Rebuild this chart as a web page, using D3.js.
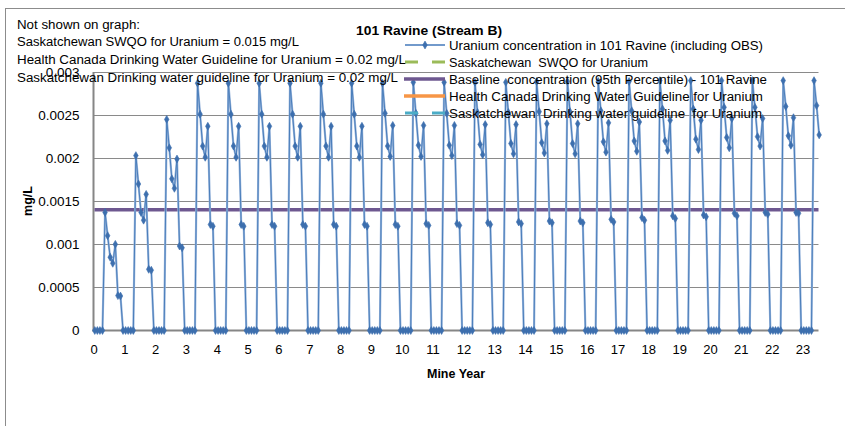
<!DOCTYPE html>
<html>
<head>
<meta charset="utf-8">
<script src="https://cdn.jsdelivr.net/npm/d3@7"></script>
<style>
  html, body { margin: 0; padding: 0; background: #fff; }
  svg { display: block; font-family: "Liberation Sans", Arial, sans-serif; }
</style>
</head>
<body>
<svg id="chart" width="845" height="426"></svg>
<script>
// ---------------- DATA ----------------
const chartTitle = "101 Ravine (Stream B)";
const notes = [
  "Not shown on graph:",
  "Saskatchewan SWQO for Uranium = 0.015 mg/L",
  "Health Canada Drinking Water Guideline for Uranium = 0.02 mg/L",
  "Saskatchewan Drinking water guideline for Uranium = 0.02 mg/L"
];
const mineYears = d3.range(0, 24);            // 0 .. 23
const months = [1,2,3,4,5,6,7,8,9,10,11,12];  // monthly samples
// Uranium (mg/L), one row per mine year, Jan..Dec
const uranium = [
  [0,0,0,0,0.00137,0.00110,0.00085,0.00078,0.00100,0.000405,0.00040,0],
  [0,0,0,0,0.00203,0.00170,0.00137,0.00128,0.00158,0.00071,0.00070,0],
  [0,0,0,0,0.00245,0.00212,0.00176,0.00165,0.00199,0.00098,0.00096,0],
  [0,0,0,0,0.00287,0.00251,0.00214,0.00201,0.00237,0.00123,0.00121,0],
  [0,0,0,0,0.00287,0.00251,0.00214,0.00201,0.00237,0.00123,0.00121,0],
  [0,0,0,0,0.00287,0.00251,0.00214,0.00201,0.00237,0.00123,0.00121,0],
  [0,0,0,0,0.00287,0.00251,0.00214,0.00201,0.00237,0.00123,0.00121,0],
  [0,0,0,0,0.00287,0.00251,0.00214,0.00201,0.00237,0.00123,0.00121,0],
  [0,0,0,0,0.00287,0.00251,0.00214,0.00201,0.00237,0.00123,0.00121,0],
  [0,0,0,0,0.00287,0.00252,0.00214,0.00202,0.00238,0.00123,0.00121,0],
  [0,0,0,0,0.00288,0.00252,0.00215,0.00202,0.00238,0.00124,0.00122,0],
  [0,0,0,0,0.00288,0.00252,0.00215,0.00203,0.00238,0.00124,0.00122,0],
  [0,0,0,0,0.00288,0.00253,0.00216,0.00204,0.00239,0.00125,0.00123,0],
  [0,0,0,0,0.00288,0.00253,0.00217,0.00205,0.00239,0.00126,0.00124,0],
  [0,0,0,0,0.00289,0.00254,0.00218,0.00206,0.00240,0.00127,0.00125,0],
  [0,0,0,0,0.00289,0.00254,0.00217,0.00205,0.00240,0.00127,0.00125,0],
  [0,0,0,0,0.00289,0.00255,0.00219,0.00207,0.00241,0.00129,0.00126,0],
  [0,0,0,0,0.00289,0.00255,0.00220,0.00208,0.00242,0.00131,0.00128,0],
  [0,0,0,0,0.00290,0.00257,0.00220,0.00209,0.00244,0.00133,0.00130,0],
  [0,0,0,0,0.00290,0.00257,0.00222,0.00210,0.00244,0.00134,0.00132,0],
  [0,0,0,0,0.00290,0.00259,0.00224,0.00212,0.00246,0.00136,0.00133,0],
  [0,0,0,0,0.00290,0.00259,0.00225,0.00214,0.00246,0.00137,0.00135,0],
  [0,0,0,0,0.00290,0.00260,0.00226,0.00215,0.00247,0.00137,0.00136,0],
  [0,0,0,0,0.00290,0.00261,0.00227]
];
const baseline95 = 0.0014;     // Baseline concentration (95th percentile)
const swqo = 0.015;            // not shown (off scale)
const healthCanada = 0.02;     // not shown (off scale)
const saskDrinking = 0.02;     // not shown (off scale)
const yTicks = [0, 0.0005, 0.001, 0.0015, 0.002, 0.0025, 0.003];
const yTickLabels = ["0","0.0005","0.001","0.0015","0.002","0.0025","0.003"];
const xTicks = d3.range(0, 24);
const legendLabels = [
  "Uranium concentration in 101 Ravine (including OBS)",
  "Saskatchewan  SWQO for Uranium",
  "Baseline  concentration (95th Percentile) - 101 Ravine",
  "Health Canada Drinking Water Guideline for Uranium",
  "Saskatchewan  Drinking water guideline  for Uranium"
];

// ---------------- BUILD SERIES ----------------
const series = [];
mineYears.forEach((yr, i) => {
  (uranium[i] || []).forEach((v, j) => {
    series.push({ x: yr + (months[j] - 0.5) / 12, y: v });
  });
});

// ---------------- DRAW ----------------
const svg = d3.select("#chart");
const plot = { left: 93.5, right: 818.5, top: 72, bottom: 330.5 };
const FONT = "Liberation Sans, Arial, sans-serif";

const x = d3.scaleLinear().domain([0, 23.52]).range([plot.left, plot.right]);
const y = d3.scaleLinear().domain([0, 0.003]).range([plot.bottom, plot.top]);

// outer chart border
svg.append("rect").attr("x", 5.5).attr("y", 8.5).attr("width", 860).attr("height", 440)
  .attr("fill", "none").attr("stroke", "#8c8c8c").attr("stroke-width", 1);

// gridlines
svg.append("g").selectAll("line").data(yTicks.filter(d => d > 0)).join("line")
  .attr("x1", plot.left).attr("x2", plot.right)
  .attr("y1", d => Math.round(y(d)) + 0.5).attr("y2", d => Math.round(y(d)) + 0.5)
  .attr("stroke", "#8a8a8a").attr("stroke-width", 1);

// y axis
const yAxis = d3.axisLeft(y).tickValues(yTicks).tickFormat((d, i) => yTickLabels[i]).tickSize(0).tickPadding(14);
const gy = svg.append("g").attr("transform", `translate(${plot.left},0)`).call(yAxis);
gy.select(".domain").remove();
gy.selectAll("text").attr("font-size", 13.5).attr("fill", "#000").attr("font-family", FONT);

// x axis
const xAxis = d3.axisBottom(x).tickValues(xTicks).tickFormat(d3.format("d")).tickSize(0).tickPadding(14);
const gx = svg.append("g").attr("transform", `translate(0,${plot.bottom})`).call(xAxis);
gx.select(".domain").remove();
gx.selectAll("text").attr("font-size", 13).attr("fill", "#000").attr("font-family", FONT);

// axis lines
svg.append("line").attr("x1", plot.left).attr("x2", plot.left).attr("y1", plot.top).attr("y2", plot.bottom + 1)
  .attr("stroke", "#868686").attr("stroke-width", 2);
svg.append("line").attr("x1", plot.left - 1).attr("x2", plot.right).attr("y1", plot.bottom).attr("y2", plot.bottom)
  .attr("stroke", "#868686").attr("stroke-width", 2);

// baseline (95th percentile)
svg.append("line").attr("x1", plot.left + 1).attr("x2", plot.right)
  .attr("y1", y(baseline95)).attr("y2", y(baseline95))
  .attr("stroke", "#6e5890").attr("stroke-width", 3.5);

// series line
const line = d3.line().x(d => x(d.x)).y(d => y(d.y));
svg.append("path").datum(series).attr("d", line)
  .attr("fill", "none").attr("stroke", "#9ab6dc").attr("stroke-width", 2.2).attr("stroke-linejoin", "round");
svg.append("path").datum(series).attr("d", line)
  .attr("fill", "none").attr("stroke", "#4a7ebb").attr("stroke-width", 1).attr("stroke-linejoin", "round");

// markers
const diamond = d3.symbol().type(d3.symbolDiamond).size(18);
svg.append("g").selectAll("path").data(series).join("path")
  .attr("d", diamond)
  .attr("transform", d => `translate(${x(d.x)},${y(d.y)})`)
  .attr("fill", "#3d6fae").attr("stroke", "#3d6fae").attr("stroke-width", 0.6);

// axis titles
svg.append("text").attr("x", 456).attr("y", 378).attr("text-anchor", "middle")
  .attr("font-size", 12.5).attr("font-weight", "bold").attr("textLength", 58).attr("lengthAdjust", "spacingAndGlyphs")
  .text("Mine Year");
svg.append("text").attr("transform", "translate(32,201) rotate(-90)").attr("text-anchor", "middle")
  .attr("font-size", 12.5).attr("font-weight", "bold").text("mg/L");

// title
svg.append("text").attr("x", 356).attr("y", 35)
  .attr("font-size", 13.5).attr("font-weight", "bold")
  .attr("textLength", 146).attr("lengthAdjust", "spacingAndGlyphs").text(chartTitle);

// notes
const noteWidths = [123, 282, 389, 381];
svg.append("g").selectAll("text").data(notes).join("text")
  .attr("x", 17).attr("y", (d, i) => 28.5 + i * 17.8)
  .attr("font-size", 12.5).attr("fill", "#000")
  .attr("textLength", (d, i) => noteWidths[i]).attr("lengthAdjust", "spacingAndGlyphs")
  .text(d => d);

// legend
const lg = svg.append("g");
const legendY = [45, 62, 79, 96, 113];
const lx1 = 405, lx2 = 445;
// 0: series
lg.append("line").attr("x1", lx1).attr("x2", lx2).attr("y1", legendY[0]).attr("y2", legendY[0])
  .attr("stroke", "#9ab6dc").attr("stroke-width", 2.2);
lg.append("line").attr("x1", lx1).attr("x2", lx2).attr("y1", legendY[0]).attr("y2", legendY[0])
  .attr("stroke", "#4a7ebb").attr("stroke-width", 1);
lg.append("path").attr("d", diamond).attr("transform", `translate(${(lx1 + lx2) / 2},${legendY[0]})`)
  .attr("fill", "#3d6fae").attr("stroke", "#3d6fae").attr("stroke-width", 0.6);
// 1: SWQO green dashed
lg.append("line").attr("x1", lx1).attr("x2", lx2).attr("y1", legendY[1]).attr("y2", legendY[1])
  .attr("stroke", "#9bbb59").attr("stroke-width", 3).attr("stroke-dasharray", "13,14");
// 2: baseline purple
lg.append("line").attr("x1", lx1 - 1).attr("x2", lx2).attr("y1", legendY[2]).attr("y2", legendY[2])
  .attr("stroke", "#6e5890").attr("stroke-width", 3.5);
// 3: Health Canada orange
lg.append("line").attr("x1", lx1 - 1).attr("x2", lx2).attr("y1", legendY[3]).attr("y2", legendY[3])
  .attr("stroke", "#f79646").attr("stroke-width", 3.5);
// 4: Sask drinking teal dashed
lg.append("line").attr("x1", lx1).attr("x2", lx2).attr("y1", legendY[4]).attr("y2", legendY[4])
  .attr("stroke", "#4bacc6").attr("stroke-width", 3).attr("stroke-dasharray", "13,14");

const legendWidths = [314, 199, 318, 314, 313];
lg.selectAll("text").data(legendLabels).join("text")
  .attr("x", 449).attr("y", (d, i) => legendY[i] + 4.5)
  .attr("font-size", 12.5).attr("fill", "#000")
  .attr("textLength", (d, i) => legendWidths[i]).attr("lengthAdjust", "spacingAndGlyphs")
  .attr("xml:space", "preserve").text(d => d);
</script>
</body>
</html>
